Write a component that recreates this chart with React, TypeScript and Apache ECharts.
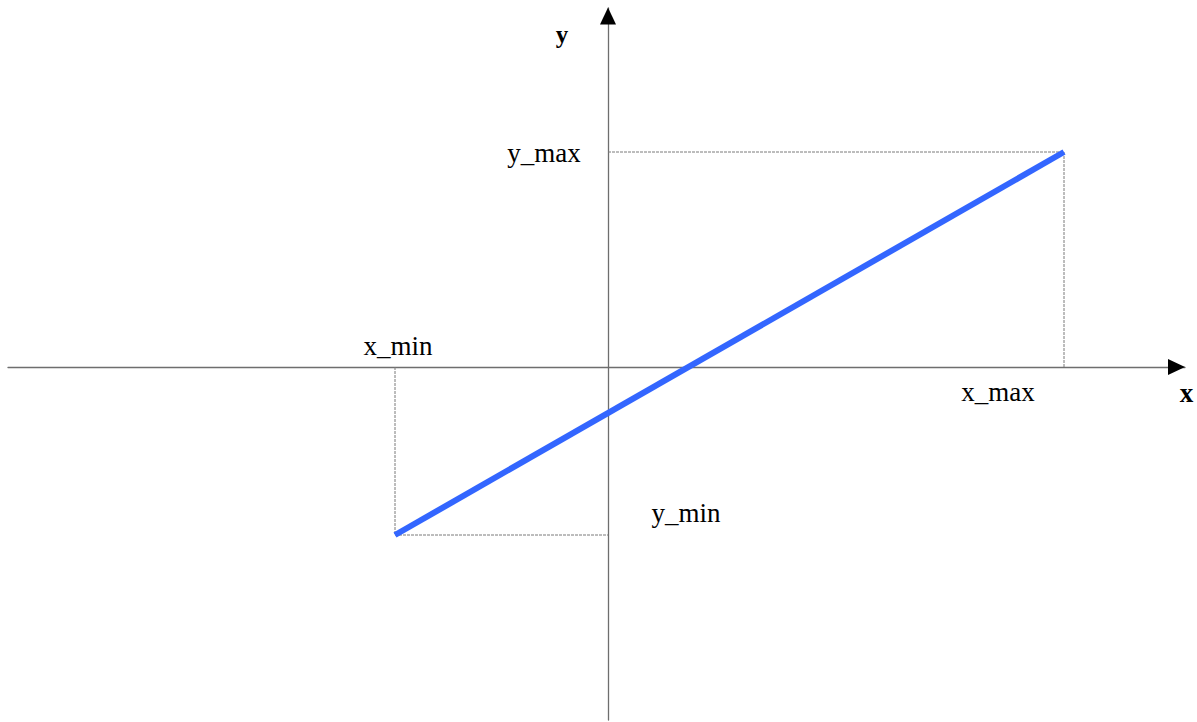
import React, { useEffect, useRef } from "react";
import * as echarts from "echarts";

// Axis extents (data units; 1 unit = 100 px in the picture)
const xRange = [-6.0, 5.77];
const yRange = [-3.53, 3.59];
// Arrow-head centres at the ends of the axes
const arrowPoints = [
  [5.685, 0],
  [0, 3.51],
];
const arrowNames = ["x", "y"];
// The blue line
const lineX = [-2.13, 4.56];
const lineY = [-1.68, 2.15];
// Label names
const boundNames = ["x_min", "x_max", "y_min", "y_max"];

export default function App() {
  const ref = useRef<HTMLDivElement>(null);
  useEffect(() => {
    if (!ref.current) return;
    const chart = echarts.init(ref.current, undefined, { renderer: "svg" });
    const xMin = lineX[0];
    const xMax = lineX[1];
    const yMin = lineY[0];
    const yMax = lineY[1];
    const font = "'Liberation Serif', 'Times New Roman', serif";
    const labelOffsets: Record<string, number[]> = {
      x_min: [3, -21],
      x_max: [-66, 25],
      y_min: [78, -22],
      y_max: [-64, 1],
    };
    const labelPoints: Record<string, number[]> = {
      x_min: [xMin, 0],
      x_max: [xMax, 0],
      y_min: [0, yMin],
      y_max: [0, yMax],
    };
    const dashStyle = { color: "#7a7a7a", width: 1, type: [3, 1] };
    chart.setOption({
      animation: false,
      backgroundColor: "#ffffff",
      grid: { left: 8, right: 12, top: 8, bottom: 2, containLabel: false },
      xAxis: {
        type: "value",
        min: xRange[0],
        max: xRange[1],
        axisLine: { show: true, onZero: true, lineStyle: { color: "#6e6e6e", width: 1.3 } },
        axisTick: { show: false },
        axisLabel: { show: false },
        splitLine: { show: false },
      },
      yAxis: {
        type: "value",
        min: yRange[0],
        max: yRange[1],
        axisLine: { show: true, onZero: true, lineStyle: { color: "#6e6e6e", width: 1.3 } },
        axisTick: { show: false },
        axisLabel: { show: false },
        splitLine: { show: false },
      },
      series: [
        {
          type: "line",
          data: [
            [xMin, 0],
            [xMin, yMin],
            [0, yMin],
          ],
          symbol: "none",
          lineStyle: dashStyle,
          silent: true,
        },
        {
          type: "line",
          data: [
            [0, yMax],
            [xMax, yMax],
            [xMax, 0],
          ],
          symbol: "none",
          lineStyle: dashStyle,
          silent: true,
        },
        {
          type: "line",
          data: lineX.map((x, i) => [x, lineY[i]]),
          symbol: "none",
          lineStyle: { color: "#3366ff", width: 6 },
          silent: true,
        },
        {
          type: "scatter",
          data: arrowPoints.map((p, i) => ({
            value: p,
            name: arrowNames[i],
            symbolRotate: i === 0 ? -90 : 0,
            label: {
              show: true,
              formatter: arrowNames[i],
              position: "inside",
              offset: i === 0 ? [10, 26] : [-46, 18],
              fontFamily: font,
              fontWeight: "bold",
              fontSize: i === 0 ? 27 : 25,
              color: "#000",
              textBorderWidth: 0,
            },
          })),
          symbol: "triangle",
          symbolSize: [16, 17],
          itemStyle: { color: "#000", opacity: 1 },
          silent: true,
        },
        {
          type: "scatter",
          data: boundNames.map((n) => ({
            value: labelPoints[n],
            name: n,
            label: {
              show: true,
              formatter: n,
              position: "inside",
              offset: labelOffsets[n],
              fontFamily: font,
              fontSize: 27,
              color: "#000",
              textBorderWidth: 0,
            },
          })),
          symbolSize: 0,
          itemStyle: { opacity: 1 },
          silent: true,
        },
      ],
    });
    return () => chart.dispose();
  }, []);
  return (
    <div
      ref={ref}
      style={{ position: "fixed", left: 0, top: 0, width: 1197, height: 722, background: "#fff" }}
    />
  );
}
